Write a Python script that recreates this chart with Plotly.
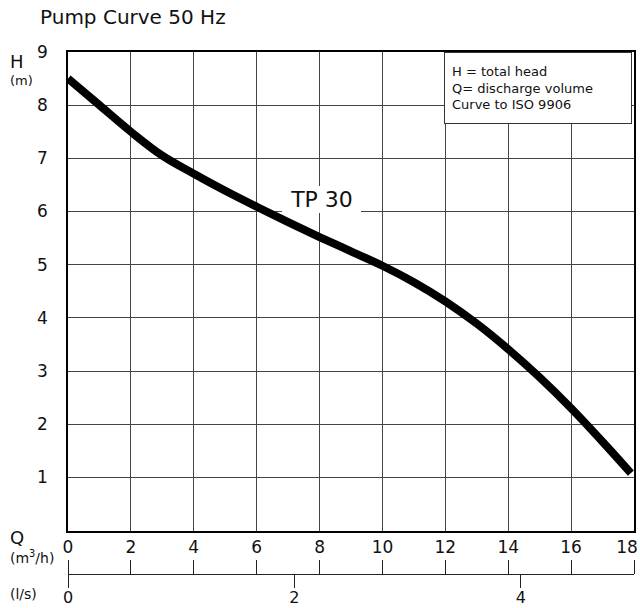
import plotly.graph_objects as go

# Data
flow_m3h = [0, 1, 2, 3, 4, 5, 6, 7, 8, 9, 10, 11, 12, 13, 14, 15, 16, 17, 17.9]
head_m = [8.5, 8.0, 7.5, 7.05, 6.71, 6.39, 6.09, 5.80, 5.52, 5.25, 4.98, 4.67, 4.31, 3.89, 3.41, 2.88, 2.30, 1.67, 1.08]
q_ticks = [0, 2, 4, 6, 8, 10, 12, 14, 16, 18]
ls_ticks = [0, 2, 4]
h_ticks = [1, 2, 3, 4, 5, 6, 7, 8, 9]
M3H_PER_LS = 3.6

FONT = "DejaVu Sans"
W, H = 640, 608
ML, MR, MT, MB = 68, 6, 52, 34
plot_h = H - MT - MB
plot_w = W - ML - MR
y_dom0 = (H - MB - 530.5) / plot_h

fig = go.Figure()
fig.add_trace(go.Scatter(x=flow_m3h, y=head_m, mode="lines",
                         line=dict(color="black", width=8, shape="spline", smoothing=1.0),
                         hoverinfo="skip", showlegend=False))
# invisible traces to bind the secondary axes
for ax, conv in (("x2", 1.0), ("x3", 1 / M3H_PER_LS), ("x4", 1.0)):
    fig.add_trace(go.Scatter(x=[q * conv for q in flow_m3h], y=head_m, xaxis=ax, mode="lines",
                             line=dict(color="rgba(0,0,0,0)"), hoverinfo="skip", showlegend=False))

x_max = q_ticks[-1]
tick_font = dict(family=FONT, size=17, color="#111")

fig.update_layout(
    template="none",
    width=W, height=H, autosize=False,
    margin=dict(l=ML, r=MR, t=MT, b=MB, pad=0, autoexpand=False),
    paper_bgcolor="white", plot_bgcolor="white",
    font=dict(family=FONT, color="black"),
    title=dict(text="Pump Curve 50 Hz", x=40 / W, xanchor="left", y=1 - 17 / H, yanchor="middle",
               font=dict(family=FONT, size=20, color="#111")),
    xaxis=dict(range=[0, x_max], tickvals=q_ticks, showgrid=True, gridcolor="#444", gridwidth=1.2,
               showline=True, mirror=True, linecolor="black", linewidth=1.5, automargin=False,
               showticklabels=False, ticks="", zeroline=False, anchor="y"),
    xaxis2=dict(range=[0, x_max], overlaying="x", anchor="free", position=0, side="top",
                tickvals=q_ticks, ticktext=[str(q) for q in q_ticks[:-1]] + [""],
                ticks="outside", ticklen=14, tickwidth=1.2, tickcolor="#222", automargin=False,
                showline=True, linecolor="#222", linewidth=1.2, showgrid=False, zeroline=False,
                tickfont=tick_font),
    xaxis4=dict(range=[0, x_max], overlaying="x", anchor="free", position=0, side="top",
                tickvals=[q_ticks[-1]], ticks="outside", ticklen=14, tickcolor="rgba(0,0,0,0)",
                ticklabelshift=-7, ticklabeloverflow="allow", automargin=False,
                showline=False, showgrid=False, zeroline=False, tickfont=tick_font),
    xaxis3=dict(range=[0, x_max / M3H_PER_LS], overlaying="x", anchor="free", position=0, side="bottom",
                tickvals=ls_ticks, ticks="outside", ticklen=13, tickwidth=1.2, tickcolor="#222",
                ticklabelstandoff=-4,
                showline=False, showgrid=False, zeroline=False, automargin=False,
                ticklabeloverflow="allow", tickfont=dict(family=FONT, size=16, color="#111")),
    yaxis=dict(range=[0, 9], domain=[y_dom0, 1], tickvals=h_ticks, showgrid=True, gridcolor="#444",
               gridwidth=1.2, showline=True, mirror=True, linecolor="black", linewidth=1.5,
               ticks="", ticklabelstandoff=15, zeroline=False, automargin=False, tickfont=tick_font),
)

def py(pix):
    return (H - MB - pix) / plot_h

def px(pix):
    return (pix - ML) / plot_w

ann = [
    ("H", 8, 61.5, 18),
    ("(m)", 8, 80, 13),
    ("Q", 8, 537, 18),
    ("(m<sup>3</sup>/h)", 8, 557, 14),
    ("(l/s)", 8, 594, 14),
]
for text, ax, ay, size in ann:
    fig.add_annotation(xref="paper", yref="paper", xanchor="left", yanchor="middle",
                       showarrow=False, text=text, x=px(ax), y=py(ay),
                       font=dict(family=FONT, color="#111", size=size))

fig.add_annotation(xref="paper", yref="paper", x=px(632), y=1, xanchor="right", yanchor="top",
                   showarrow=False, align="left", valign="middle",
                   text="H = total head<br>Q= discharge volume<br>Curve to ISO 9906",
                   font=dict(family=FONT, size=13, color="#111"),
                   bgcolor="white", bordercolor="#333", borderwidth=1, borderpad=7,
                   width=172, height=56)

fig.add_annotation(xref="x", yref="y", x=8.05, y=6.225, xanchor="center", yanchor="middle",
                   showarrow=False, text="TP 30", font=dict(family=FONT, size=22, color="#111"),
                   bgcolor="white", borderwidth=0, borderpad=0, width=79, height=27)

fig.write_html("out.html", config={"displayModeBar": False},
               post_script="document.body.style.margin='0';document.body.style.overflow='hidden';")
